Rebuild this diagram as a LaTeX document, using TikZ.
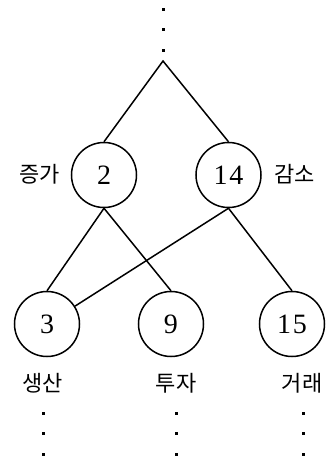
\documentclass[tikz,border=0pt]{standalone}
\usepackage{fontspec}
\setmainfont{Liberation Serif}
\newfontfamily\kofont{Noto Sans CJK KR}
\begin{document}
\begin{tikzpicture}[x=1pt,y=-1pt,
  numnode/.style={circle,draw,line width=1.5pt,minimum size=65pt,inner sep=0pt,
    font=\fontsize{28}{28}\selectfont},
  kolabel/.style={font=\kofont\fontsize{22}{22}\selectfont,inner sep=0pt},
  link/.style={line width=1.5pt},
  dotmark/.style={fill=black,draw=none,rectangle,minimum size=3pt,inner sep=0pt}]
\useasboundingbox (0,0) rectangle (325,459);

% tree nodes
\node[numnode] (n2)  at (104,175)   {2};
\node[numnode] (n14) at (228.5,175) {1\kern2pt 4};
\node[numnode] (n3)  at (47,324)    {3};
\node[numnode] (n9)  at (171,324)   {9};
\node[numnode] (n15) at (292,324)   {1\kern2pt 5};
\coordinate (apex) at (163,61);

% labels
\node[kolabel] (l2)  at (40,174)  {증가};
\node[kolabel] (l14) at (294.5,174) {감소};
\node[kolabel] (l3)  at (43,383)  {생산};
\node[kolabel] (l9)  at (176,383) {투자};
\node[kolabel] (l15) at (302,383) {거래};

% continuation dots
\node[dotmark] (t1) at (163,9) {};
\node[dotmark] (t2) at (163,29) {};
\node[dotmark] (t3) at (163,50) {};
\foreach \x/\n in {43/a,176/b,303/c}{
  \node[dotmark] (\n1) at (\x,413) {};
  \node[dotmark] (\n2) at (\x,433) {};
  \node[dotmark] (\n3) at (\x,454) {};
}

% edges
\draw[link] (n2.north) -- (apex) -- (n14.north);
\draw[link] (n2.south) -- (n3.north);
\draw[link] (n2.south) -- (n9.north);
\draw[link] (n14.south) -- (n15.north);
\draw[link] (n14.south) -- (n3);
\end{tikzpicture}
\end{document}
